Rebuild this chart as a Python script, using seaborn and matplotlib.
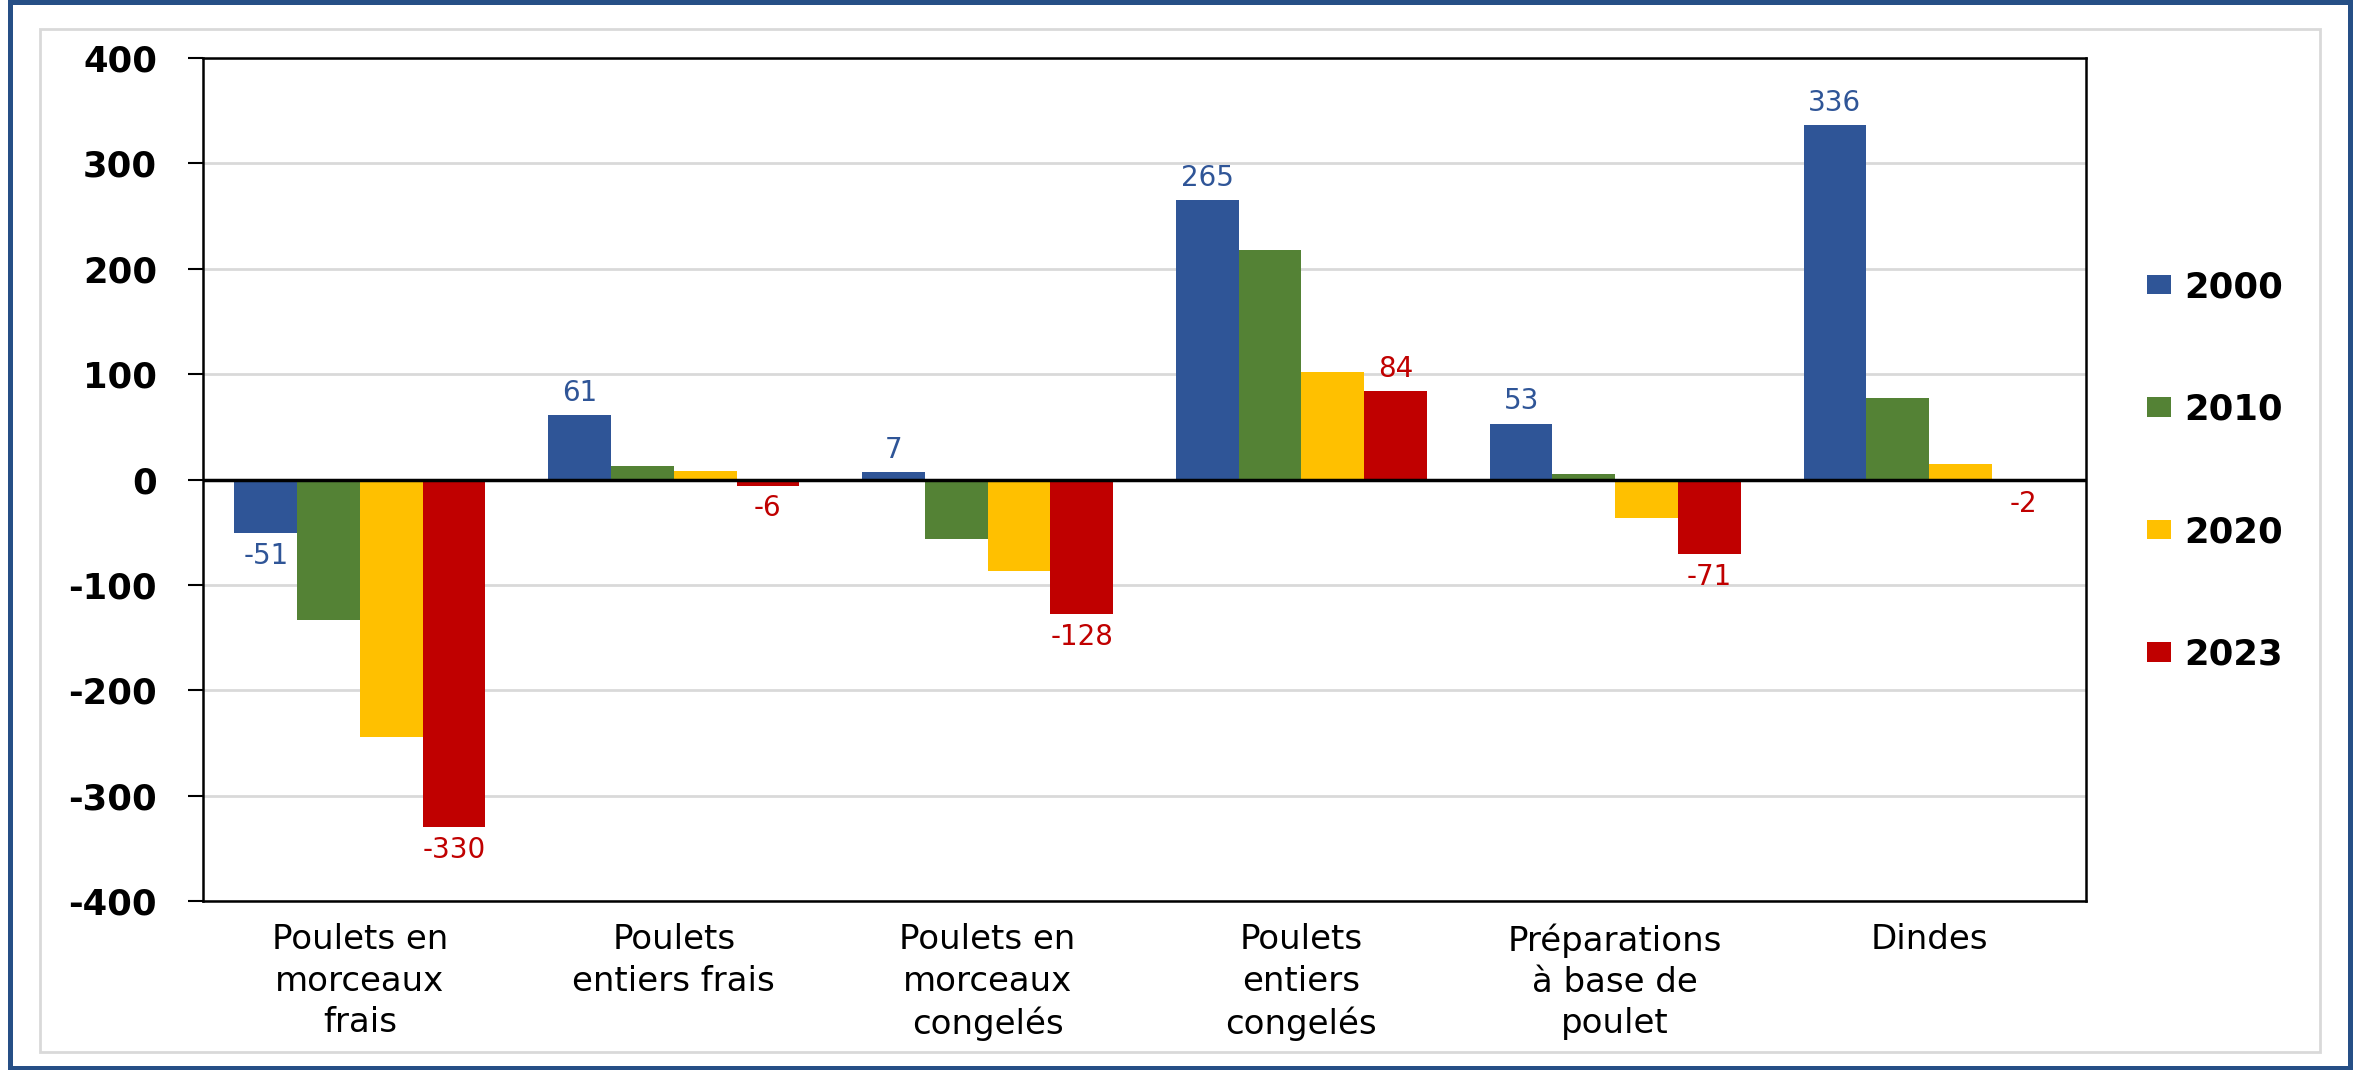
import pandas as pd
import matplotlib.pyplot as plt
import seaborn as sns
from matplotlib.patches import Rectangle

# ==============================
# Data
# ==============================
categories = [
    "Poulets en\nmorceaux\nfrais",
    "Poulets\nentiers frais",
    "Poulets en\nmorceaux\ncongelés",
    "Poulets\nentiers\ncongelés",
    "Préparations\nà base de\npoulet",
    "Dindes",
]
years = ["2000", "2010", "2020", "2023"]
v2000 = [-51, 61, 7, 265, 53, 336]
v2010 = [-133, 13, -56, 218, 5, 77]
v2020 = [-244, 8, -87, 102, -37, 15]
v2023 = [-330, -6, -128, 84, -71, -2]
colors = ["#2F5597", "#548235", "#FFC000", "#C00000"]

values = {"2000": v2000, "2010": v2010, "2020": v2020, "2023": v2023}
df = pd.DataFrame(
    [(cat, yr, values[yr][i]) for yr in years for i, cat in enumerate(categories)],
    columns=["categorie", "annee", "valeur"],
)

# ==============================
# Style
# ==============================
sns.set_style("white")
plt.rcParams["font.family"] = ["DejaVu Sans"]
plt.rcParams["text.color"] = "black"
plt.rcParams["axes.unicode_minus"] = False

W, H = 2354, 1070
fig = plt.figure(figsize=(W / 100, H / 100), dpi=100)
ax = fig.add_axes([203 / W, 1 - 901 / H, (2086 - 203) / W, (901 - 58) / H])

sns.barplot(
    data=df, x="categorie", y="valeur", hue="annee", hue_order=years,
    palette=colors, width=0.8, saturation=1, errorbar=None,
    linewidth=0, ax=ax,
)

# data labels only for 2000 and 2023
ax.bar_label(ax.containers[0], padding=6, color="#2F5597", fontsize=20)
ax.bar_label(ax.containers[3], padding=6, color="#C00000", fontsize=20)

# axes look
ax.set_ylim(-400, 400)
ax.set_yticks(range(-400, 401, 100))
ax.set_xlabel("")
ax.set_ylabel("")
ax.yaxis.grid(True, color="#D9D9D9", linewidth=2)
ax.set_axisbelow(True)
ax.axhline(0, color="black", linewidth=2.5, zorder=3)
for sp in ax.spines.values():
    sp.set_visible(True)
    sp.set_color("black")
    sp.set_linewidth(1.8)

ax.tick_params(axis="y", left=True, length=11, width=1.5, direction="out",
               pad=22, labelsize=25.5, colors="black")
ax.tick_params(axis="x", bottom=False, length=0, pad=16, labelsize=24.5,
               colors="black")
plt.setp(ax.get_yticklabels(), fontweight="bold")
for lbl in ax.get_xticklabels():
    lbl.set_linespacing(1.32)

# legend on the right
handles, labels = ax.get_legend_handles_labels()
ax.get_legend().remove()
fig.legend(
    handles, labels, loc="center left",
    bbox_to_anchor=(2147 / W, 1 - 471 / H),
    frameon=False, prop={"weight": "bold", "size": 25.5},
    labelspacing=2.5, handlelength=0.68, handleheight=0.47,
    handletextpad=0.38, borderpad=0, borderaxespad=0,
)

# frames around the chart
fig.patches.append(Rectangle(
    (40 / W, 1 - 1052 / H), (2320 - 40) / W, (1052 - 29) / H,
    transform=fig.transFigure, fill=False, edgecolor="#D9D9D9", linewidth=2,
))
fig.patches.append(Rectangle(
    (9.5 / W, 1 - 1068 / H), (2350 - 9.5) / W, (1068 - 1.5) / H,
    transform=fig.transFigure, fill=False, edgecolor="#264F86", linewidth=3.6,
))

fig.savefig("out.png", dpi=100)
